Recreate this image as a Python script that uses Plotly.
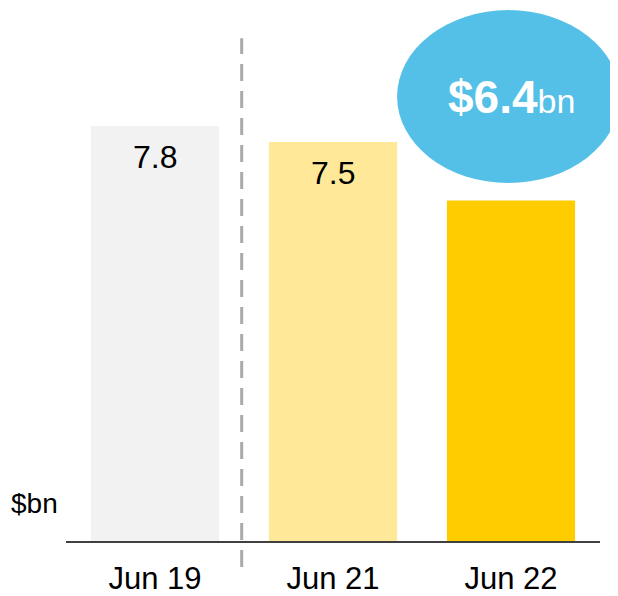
import plotly.graph_objects as go

categories = ["Jun 19", "Jun 21", "Jun 22"]
values = [7.8, 7.5, 6.4]
value_labels = ["7.8", "7.5", ""]
bar_colors = ["#F2F2F2", "#FFE999", "#FFCC00"]
unit_label = "$bn"
bubble_value = "$6.4"
bubble_unit = "bn"

FONT = "Arial, Liberation Sans, sans-serif"

fig = go.Figure()
fig.add_trace(
    go.Bar(
        x=categories,
        y=values,
        marker={"color": bar_colors, "line": {"width": 0}},
        width=0.72,
        hoverinfo="skip",
    )
)

# value labels sit inside the top of each bar
for cat, val, lab in zip(categories, values, value_labels):
    if lab:
        fig.add_annotation(
            x=cat, y=val, text=lab, showarrow=False,
            yanchor="middle", yshift=-31,
            font={"size": 32, "color": "#000000", "family": FONT},
        )

# dashed divider between history and recent years
fig.add_shape(
    type="line", xref="paper", yref="paper",
    x0=0.329, x1=0.329, y0=-0.049, y1=0.945,
    line={"color": "#AAAAAA", "width": 3, "dash": "17px,10px"},
)

# highlight bubble
fig.add_shape(
    type="circle", xref="paper", yref="paper",
    x0=0.620, x1=1.037, y0=0.673, y1=0.998,
    fillcolor="#54C0E8", line={"width": 0}, layer="above",
)
fig.add_annotation(
    xref="paper", yref="paper", x=0.834, y=0.834,
    text=f"<b>{bubble_value}</b><span style='font-size:34px'>{bubble_unit}</span>",
    showarrow=False, xanchor="center", yanchor="middle",
    font={"size": 46, "color": "#FFFFFF", "family": FONT},
)

fig.add_annotation(
    xref="paper", yref="paper", x=-0.011, y=0.071,
    text=unit_label, showarrow=False, xanchor="right", yanchor="middle",
    font={"size": 28, "color": "#000000", "family": FONT},
)

# page body adds an 8px offset, so margins are shifted to compensate
fig.update_layout(
    width=618,
    height=596,
    margin={"l": 58, "r": 26, "t": 1, "b": 63},
    paper_bgcolor="white",
    plot_bgcolor="white",
    showlegend=False,
    font={"family": FONT, "color": "#000000"},
)
fig.update_xaxes(
    showline=True, linecolor="#404040", linewidth=1.5,
    showgrid=False, ticks="", tickfont={"size": 31},
    ticklabelstandoff=9,
    range=[-0.5, 2.5],
)
fig.update_yaxes(
    visible=False, range=[0, 10], showgrid=False, zeroline=False,
)

fig.write_html("out.html")
